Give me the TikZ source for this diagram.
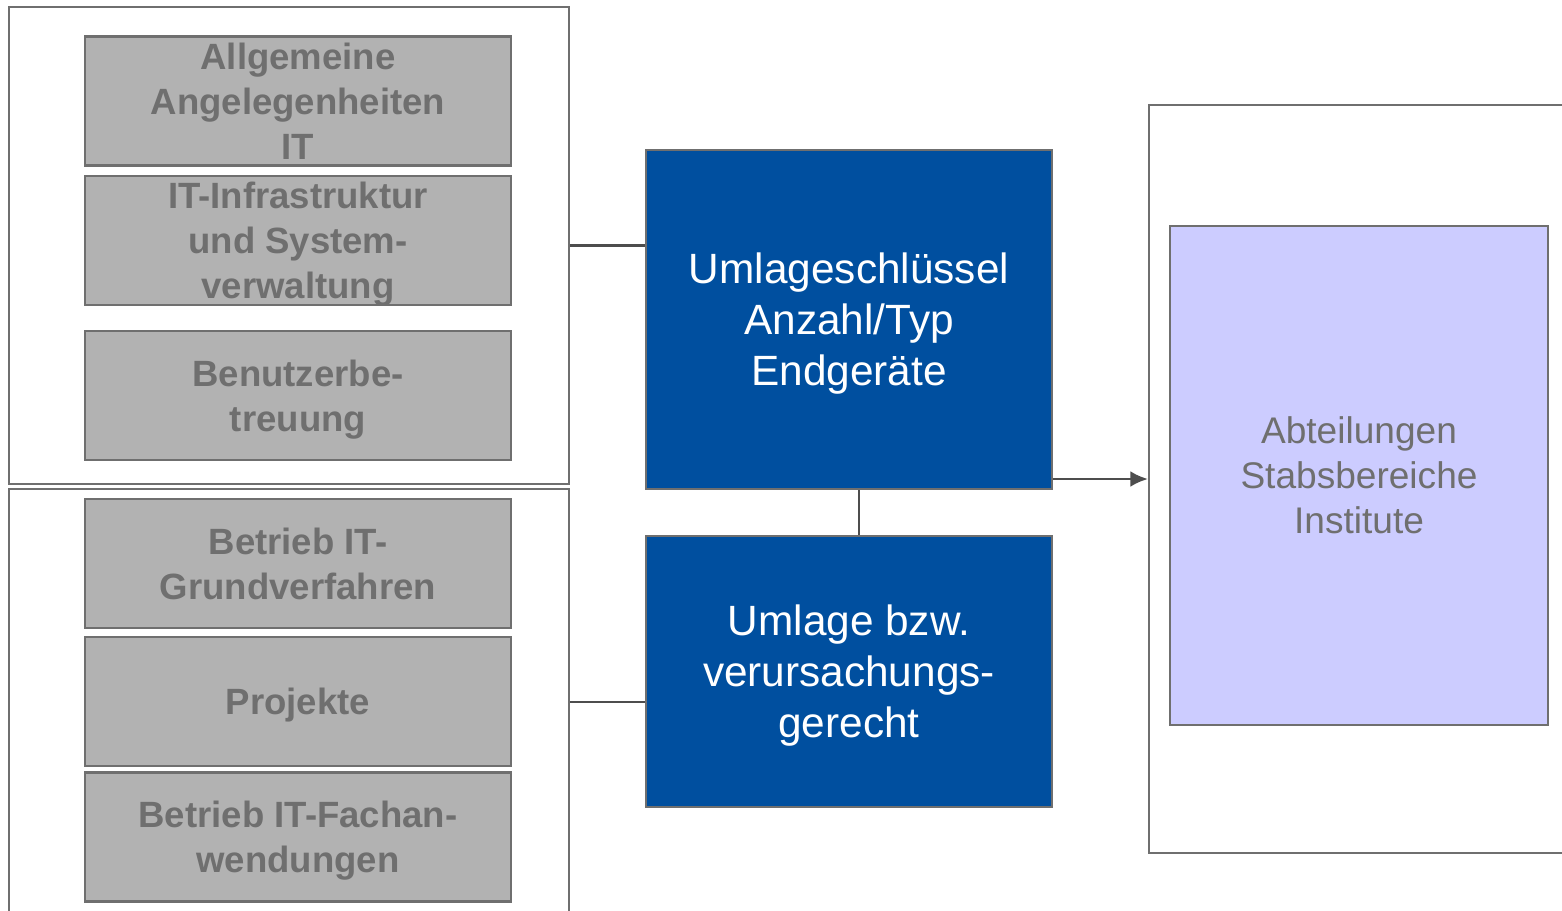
\documentclass[tikz,border=0pt]{standalone}
\usepackage{fontspec}
\setmainfont{Liberation Sans}
\usetikzlibrary{positioning,arrows.meta}
\definecolor{boxgray}{HTML}{B2B2B2}
\definecolor{edgegray}{HTML}{6F6F6F}
\definecolor{kostblue}{HTML}{004F9F}
\definecolor{zielfill}{HTML}{CCCCFF}
\definecolor{linegray}{HTML}{4D4D4D}
\tikzset{
  rahmen/.style={draw=edgegray,line width=1.2pt,inner sep=0pt},
  stelle/.style={draw=edgegray,fill=boxgray,line width=1.5pt,minimum width=8.52cm,
    minimum height=2.58cm,inner sep=0pt,align=center,text=edgegray,text depth=0pt,
    font=\fontsize{20.8}{25.6}\selectfont\bfseries},
  schluessel/.style={draw=edgegray,fill=kostblue,line width=1.5pt,minimum width=8.12cm,
    inner sep=0pt,align=center,text=white,text depth=0pt,font=\fontsize{24.1}{29}\selectfont},
  ziel/.style={draw=edgegray,fill=zielfill,line width=1.5pt,minimum width=7.56cm,
    minimum height=9.98cm,inner sep=0pt,align=center,text=edgegray,
    font=\fontsize{21.1}{25.6}\selectfont},
  verbinder/.style={draw=linegray,line width=1.6pt}
}
\begin{document}
\begin{tikzpicture}[x=0.02cm,y=-0.02cm]
          \useasboundingbox (0,0) rectangle (1562,910);
          \clip (0,0) rectangle (1562,910);
          % Kostenstellen
          \node[rahmen,minimum width=11.2cm,minimum height=9.54cm] (frameoben) at (289,245.5) {};
          \node[rahmen,minimum width=11.2cm,minimum height=8.52cm] (frameunten) at (289,702) {};
          \node[stelle] (allg) at (298,101) {Allgemeine\\Angelegenheiten\\IT};
          \node[stelle] (infra) at (298,240.5) {IT-Infrastruktur\\und System-\\verwaltung};
          \node[stelle] (benutzer) at (298,395.5) {Benutzerbe-\\treuung};
          \node[stelle] (grund) at (298,563.5) {Betrieb IT-\\Grundverfahren};
          \node[stelle] (projekte) at (298,701.5) {Projekte};
          \node[stelle] (fachan) at (298,837) {Betrieb IT-Fachan-\\wendungen};
          % Schluessel
          \node[schluessel,minimum height=6.78cm] (endgeraete) at (849,319.5) {Umlageschlüssel\\Anzahl/Typ\\Endgeräte};
          \node[schluessel,minimum height=5.42cm] (umlage) at (849,671.5) {Umlage bzw.\\verursachungs-\\gerecht};
          % Empfaenger
          \node[rahmen,minimum width=9.02cm,minimum height=14.96cm] (zielrahmen) at (1374.5,479) {};
          \node[ziel] (abteilungen) at (1359,475.5) {Abteilungen\\Stabsbereiche\\Institute};
          \path[verbinder] (frameoben.east) edge (frameoben.east -| endgeraete.west);
          \path[verbinder] (frameunten.east) edge (frameunten.east -| umlage.west);
          \path[verbinder] ([xshift=0.2cm]endgeraete.south) edge ([xshift=0.2cm]umlage.north);
          \draw[verbinder,-{Latex[length=10pt,width=9pt]}] (zielrahmen.west -| endgeraete.east) -- (zielrahmen.west);
        \end{tikzpicture}
\end{document}
